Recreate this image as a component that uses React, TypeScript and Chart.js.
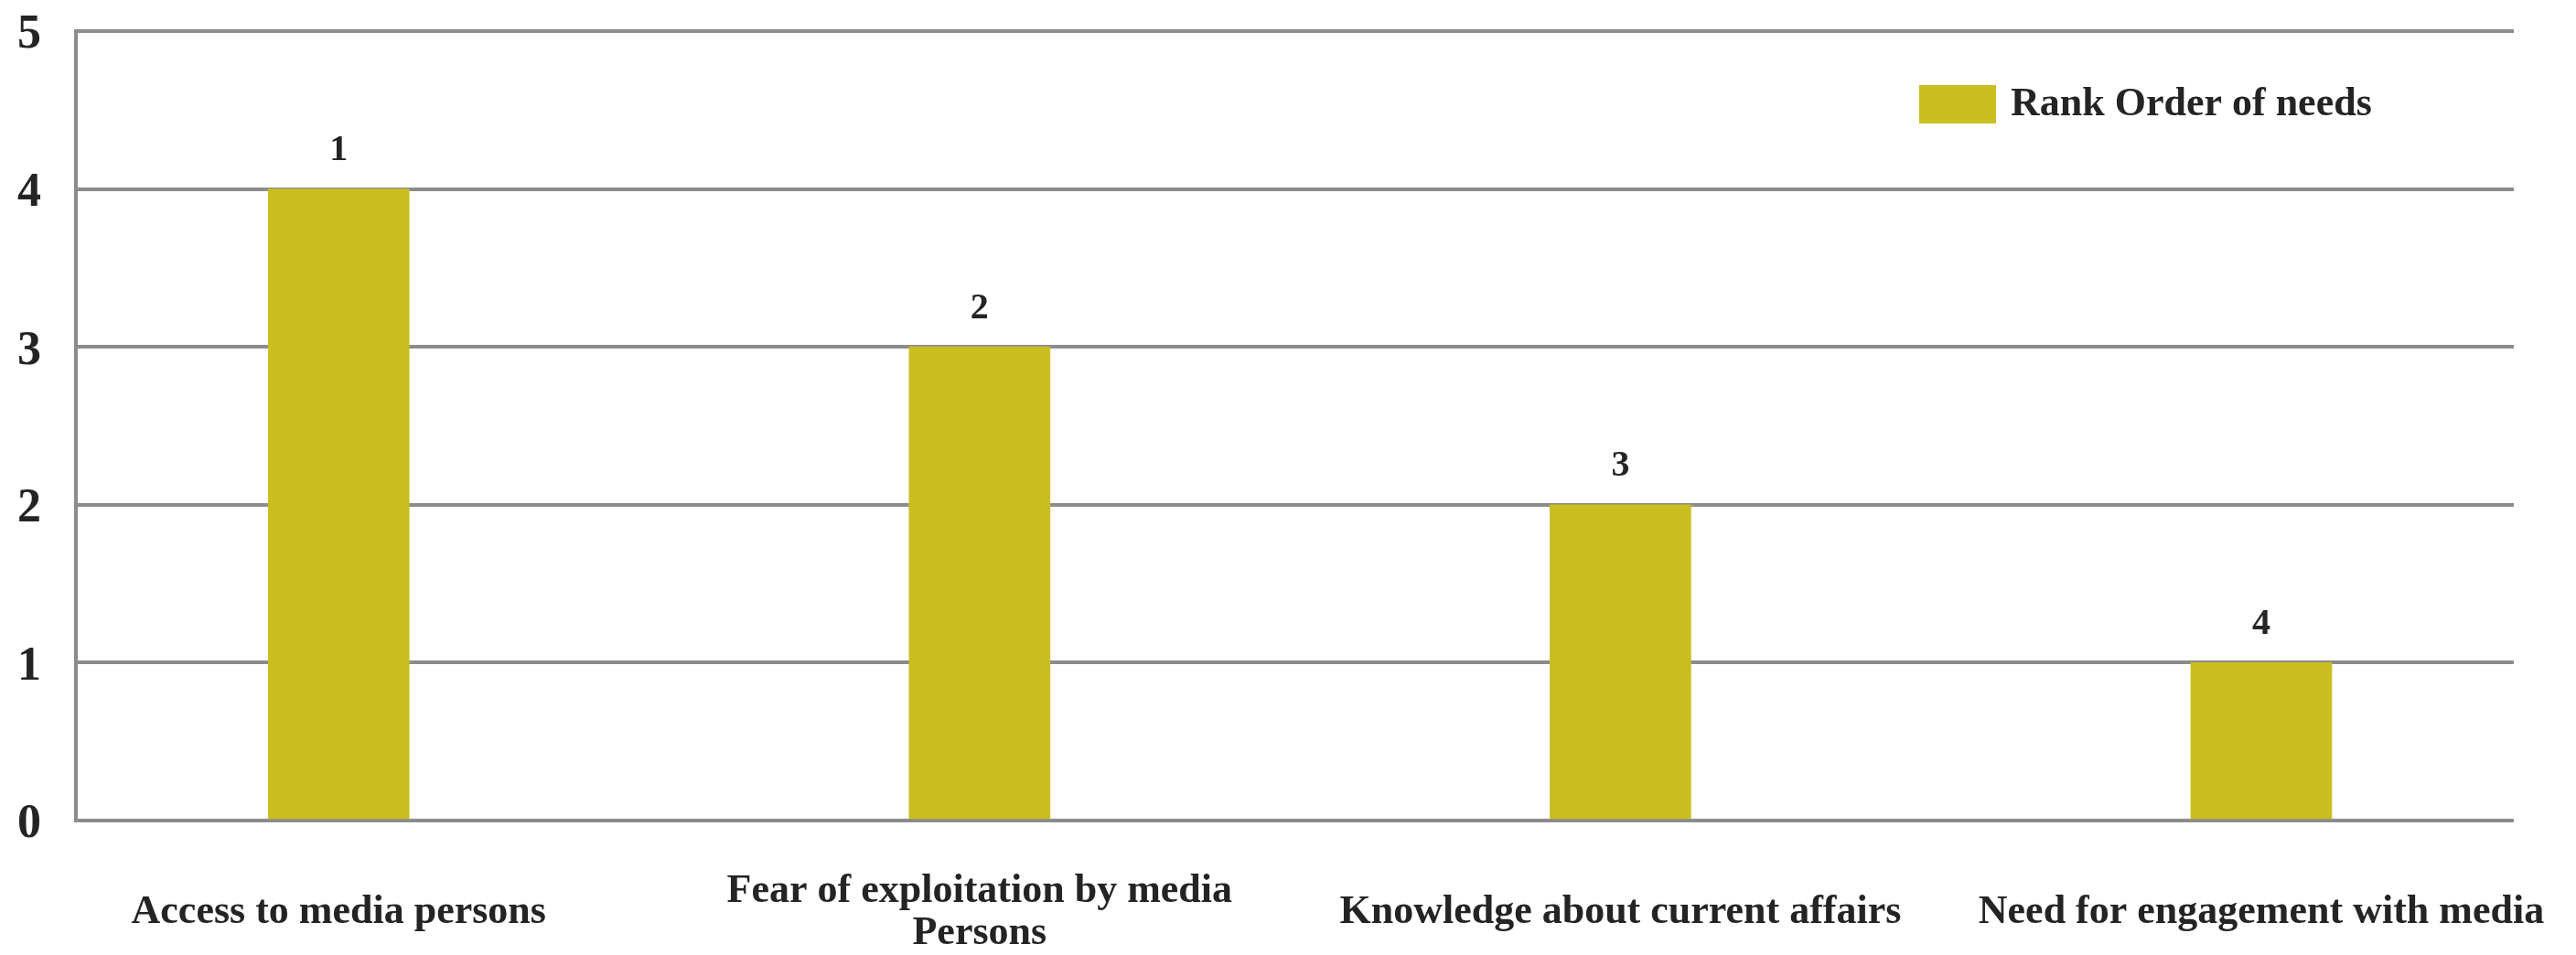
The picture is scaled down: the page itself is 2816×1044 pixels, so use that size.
import React, { useEffect, useRef } from "react";
import { Chart, registerables } from "chart.js";

Chart.register(...registerables);

const categories: (string | string[])[] = [
  "Access to media persons",
  ["Fear of exploitation by media", "Persons"],
  "Knowledge about current affairs",
  "Need for engagement with media",
];
const values: number[] = [4, 3, 2, 1];
const rankLabels: string[] = ["1", "2", "3", "4"];
const seriesName = "Rank Order of needs";
const yTicks: number[] = [0, 1, 2, 3, 4, 5];

const X_MIN = -0.41;
const X_MAX = 3.394;

const BAR_COLOR = "#C9BE22";
const GRID_COLOR = "#8c8c8c";
const TEXT_COLOR = "#242424";
const FONT_FAMILY = "'Liberation Serif', 'Times New Roman', serif";

const barLabelPlugin = {
  id: "barLabels",
  afterDatasetsDraw(chart: any) {
    const ctx = chart.ctx;
    const meta = chart.getDatasetMeta(0);
    ctx.save();
    ctx.font = `bold 40px ${FONT_FAMILY}`;
    ctx.fillStyle = TEXT_COLOR;
    ctx.textAlign = "center";
    ctx.textBaseline = "middle";
    meta.data.forEach((bar: any, i: number) => {
      ctx.fillText(rankLabels[i], bar.x, bar.y - 42);
    });
    ctx.restore();
  },
};

const legendPlugin = {
  id: "customLegend",
  afterDraw(chart: any) {
    const ctx = chart.ctx;
    const ds = chart.data.datasets[0];
    const area = chart.chartArea;
    const boxX = area.right - 650;
    const boxY = area.top + 59;
    ctx.save();
    ctx.fillStyle = ds.backgroundColor;
    ctx.fillRect(boxX, boxY, 84, 42);
    ctx.font = `bold 44px ${FONT_FAMILY}`;
    ctx.fillStyle = TEXT_COLOR;
    ctx.textAlign = "left";
    ctx.textBaseline = "middle";
    ctx.fillText(ds.label, boxX + 100, boxY + 22);
    ctx.restore();
  },
};

export default function App() {
  const canvasRef = useRef<HTMLCanvasElement | null>(null);

  useEffect(() => {
    document.body.style.margin = "0";
    const canvas = canvasRef.current;
    if (!canvas) return;
    const chart = new Chart(canvas, {
      type: "bar",
      data: {
        datasets: [
          {
            label: seriesName,
            data: values.map((v, i) => ({ x: i, y: v })),
            backgroundColor: BAR_COLOR,
            borderWidth: 0,
            barThickness: 154,
          },
        ],
      },
      options: {
        animation: false,
        responsive: false,
        devicePixelRatio: 1,
        layout: { padding: { top: 0, right: 68, left: 0, bottom: 0 } },
        plugins: {
          legend: { display: false },
          tooltip: { enabled: false },
        },
        scales: {
          x: {
            type: "linear",
            min: X_MIN,
            max: X_MAX,
            offset: false,
            bounds: "data",
            grid: { display: false, drawTicks: false, offset: false },
            border: { display: false },
            afterDataLimits: (scale: any) => {
              scale.min = X_MIN;
              scale.max = X_MAX;
            },
            afterBuildTicks: (scale: any) => {
              scale.min = X_MIN;
              scale.max = X_MAX;
              scale.ticks = categories.map((_, i) => ({ value: i }));
            },
            afterFit: (scale: any) => {
              scale.height = 147;
              scale.paddingLeft = 0;
              scale.paddingRight = 0;
            },
            ticks: {
              autoSkip: false,
              maxRotation: 0,
              minRotation: 0,
              padding: 78,
              crossAlign: "center",
              color: TEXT_COLOR,
              font: { family: FONT_FAMILY, size: 44, weight: "bold", lineHeight: 1.03 },
              callback: (v: any) => categories[v as number] as any,
            },
          },
          y: {
            min: 0,
            max: 5,
            afterBuildTicks: (scale: any) => {
              scale.ticks = yTicks.map((v) => ({ value: v }));
            },
            afterFit: (scale: any) => {
              scale.width = 83;
              scale.paddingTop = 34;
              scale.paddingBottom = 0;
            },
            grid: { color: GRID_COLOR, lineWidth: 4, drawTicks: false },
            border: { display: true, color: GRID_COLOR, width: 4 },
            ticks: {
              padding: 38,
              labelOffset: 5,
              color: TEXT_COLOR,
              font: { family: FONT_FAMILY, size: 52, weight: "bold" },
            },
          },
        },
      },
      plugins: [barLabelPlugin, legendPlugin],
    } as any);
    return () => chart.destroy();
  }, []);

  return (
    <div style={{ width: 2816, height: 1044, background: "#ffffff" }}>
      <canvas ref={canvasRef} width={2816} height={1044} style={{ display: "block", width: 2816, height: 1044 }} />
    </div>
  );
}
